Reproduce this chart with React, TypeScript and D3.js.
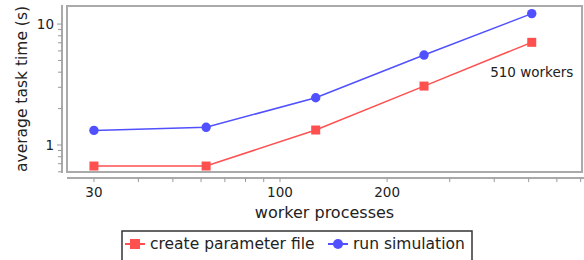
import { useEffect, useRef } from "react";
import * as d3 from "d3";

const workers = [30, 62, 126, 254, 510];
const createParam = [0.67, 0.67, 1.33, 3.07, 7.06];
const runSim = [1.32, 1.4, 2.46, 5.54, 12.2];
const xTickLabels = [30, 100, 200];
const yTickLabels = [1, 10];

const series = [
  { name: "create parameter file", values: createParam, color: "#ff5050", shape: "square" },
  { name: "run simulation", values: runSim, color: "#5050ff", shape: "circle" },
];

export default function App() {
  const svgRef = useRef<SVGSVGElement | null>(null);

  useEffect(() => {
    document.body.style.margin = "0";
    const svg = d3.select(svgRef.current);
    svg.selectAll("*").remove();
    const font = "DejaVu Sans, sans-serif";

    const left = 67, right = 582, top = 6, bottom = 172;
    const x = d3.scaleLog().domain([25.2, 706]).range([left, right]);
    const y = d3.scaleLog().domain([0.598, 14.1]).range([bottom, top]);

    // plot frame
    svg.append("rect")
      .attr("x", left).attr("y", top)
      .attr("width", right - left).attr("height", bottom - top)
      .attr("fill", "none").attr("stroke", "#aaa").attr("stroke-width", 2);

    // y axis (offset)
    const yAxisX = 62;
    svg.append("line")
      .attr("x1", yAxisX).attr("x2", yAxisX).attr("y1", top - 1).attr("y2", bottom + 1)
      .attr("stroke", "#aaa").attr("stroke-width", 2);
    const yTicks = [0.6, 0.7, 0.8, 0.9, 1, 2, 3, 4, 5, 6, 7, 8, 9, 10];
    svg.selectAll(".ytick").data(yTicks).join("line")
      .attr("x1", yAxisX).attr("x2", d => (yTickLabels.includes(d) ? yAxisX - 5 : yAxisX - 4))
      .attr("y1", d => y(d)).attr("y2", d => y(d))
      .attr("stroke", "#999").attr("stroke-width", 1);
    svg.selectAll(".ylab").data(yTickLabels).join("text")
      .attr("x", yAxisX - 8).attr("y", d => y(d)).attr("dy", "0.35em")
      .attr("text-anchor", "end").style("font-family", font).style("font-size", "13.5px")
      .attr("fill", "#222").text(d => d);
    svg.append("text")
      .attr("transform", `translate(27, ${(top + bottom) / 2}) rotate(-90)`)
      .attr("text-anchor", "middle").style("font-family", font).style("font-size", "15.5px")
      .attr("fill", "#222").text("average task time (s)");

    // x axis (offset)
    const xAxisY = 178;
    svg.append("line")
      .attr("x1", left).attr("x2", 584).attr("y1", xAxisY).attr("y2", xAxisY)
      .attr("stroke", "#aaa").attr("stroke-width", 2);
    const xTicks = [30, 40, 50, 60, 70, 80, 90, 100, 200, 300, 400, 500, 600, 700];
    svg.selectAll(".xtick").data(xTicks).join("line")
      .attr("x1", d => x(d)).attr("x2", d => x(d))
      .attr("y1", xAxisY).attr("y2", xAxisY + 4)
      .attr("stroke", "#999").attr("stroke-width", 1);
    svg.selectAll(".xlab").data(xTickLabels).join("text")
      .attr("x", d => x(d)).attr("y", 197)
      .attr("text-anchor", "middle").style("font-family", font).style("font-size", "13.5px")
      .attr("fill", "#222").text(d => d);
    svg.append("text")
      .attr("x", (left + right) / 2).attr("y", 218)
      .attr("text-anchor", "middle").style("font-family", font).style("font-size", "16px")
      .attr("fill", "#222").text("worker processes");

    // series
    const line = d3.line<number>()
      .x((_, i) => x(workers[i]))
      .y(d => y(d));
    series.forEach(s => {
      svg.append("path").attr("d", line(s.values))
        .attr("fill", "none").attr("stroke", s.color).attr("stroke-width", 1.5);
      if (s.shape === "square") {
        svg.selectAll(null).data(s.values).join("rect")
          .attr("x", (_, i) => x(workers[i]) - 4.5).attr("y", d => y(d) - 4.5)
          .attr("width", 9).attr("height", 9).attr("fill", s.color);
      } else {
        svg.selectAll(null).data(s.values).join("circle")
          .attr("cx", (_, i) => x(workers[i])).attr("cy", d => y(d))
          .attr("r", 4.7).attr("fill", s.color);
      }
    });

    // annotation
    svg.append("text")
      .attr("x", x(510)).attr("y", 77)
      .attr("text-anchor", "middle").style("font-family", font).style("font-size", "13.5px")
      .attr("fill", "#222").text("510 workers");

    // legend
    const legend = svg.append("g");
    legend.append("rect")
      .attr("x", 122).attr("y", 231).attr("width", 350).attr("height", 34)
      .attr("fill", "white").attr("stroke", "#333").attr("stroke-width", 1.5);
    const legendX = [125, 328];
    series.forEach((s, i) => {
      const lx = legendX[i];
      legend.append("line")
        .attr("x1", lx).attr("x2", lx + 20).attr("y1", 244).attr("y2", 244)
        .attr("stroke", s.color).attr("stroke-width", 2);
      if (s.shape === "square") {
        legend.append("rect").attr("x", lx + 5).attr("y", 239).attr("width", 10).attr("height", 10).attr("fill", s.color);
      } else {
        legend.append("circle").attr("cx", lx + 10).attr("cy", 244).attr("r", 5).attr("fill", s.color);
      }
      legend.append("text")
        .attr("x", lx + 25).attr("y", 244).attr("dy", "0.35em")
        .style("font-family", font).style("font-size", "15.5px")
        .attr("fill", "#222").text(s.name);
    });
  }, []);

  return (
    <svg ref={svgRef} width={584} height={260} style={{ display: "block", background: "white" }} />
  );
}
